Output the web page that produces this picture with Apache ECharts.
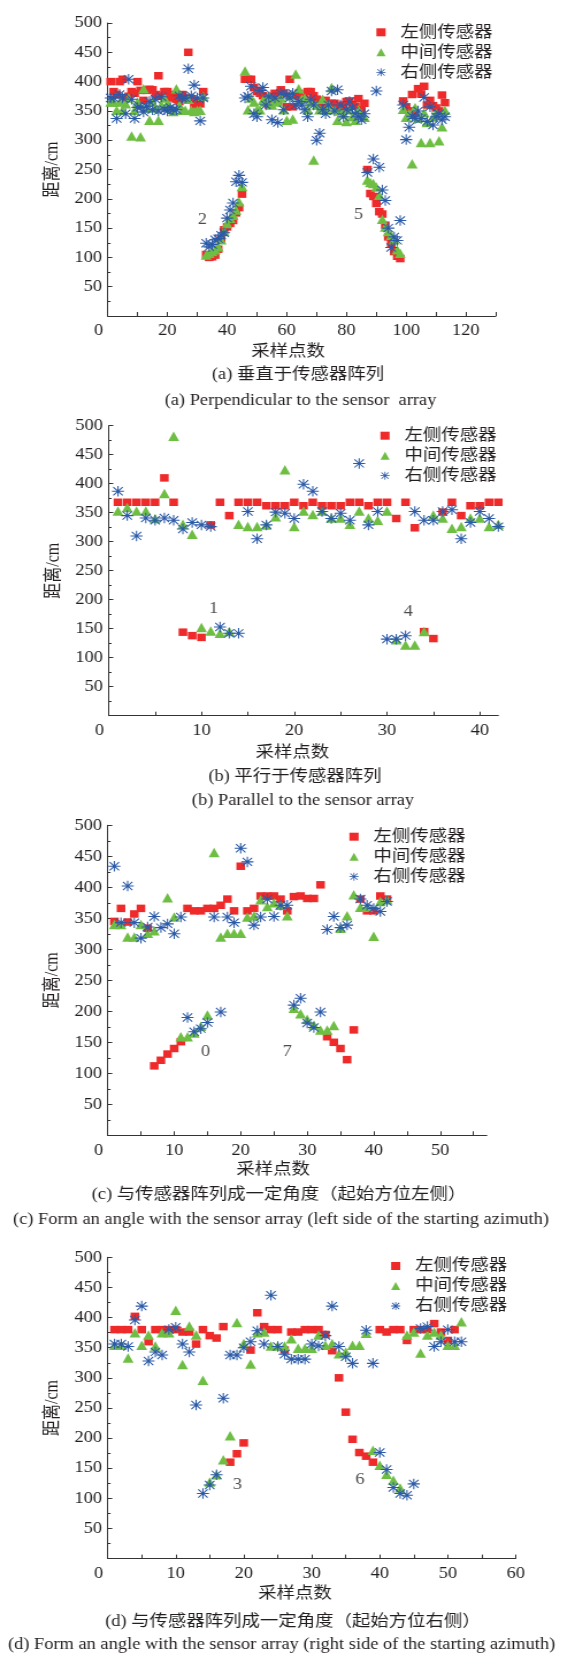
<!DOCTYPE html>
<html>
<head>
<meta charset="utf-8">
<script src="https://cdn.jsdelivr.net/npm/echarts@6/dist/echarts.min.js"></script>
<style>
html,body{margin:0;padding:0;background:#fff;overflow:hidden;}
#wrap{width:566px;height:1656px;overflow:hidden;}
#c{width:492.17px;height:1656px;transform:scaleX(1.15);transform-origin:0 0;}
</style>
</head>
<body>
<div id="wrap"><div id="c"></div></div>
<script>
// ---------------- DATA ----------------
const seriesNames = ['左侧传感器', '中间传感器', '右侧传感器'];

// (a) perpendicular
const aLeft = [[1,400],[2,383],[3,378],[4,400],[5,404],[6,372],[7,375],[8,383],[9,380],[10,400],[11,385],[12,368],[13,385],[14,387],[15,386],[16,378],[17,410],[18,375],[19,383],[20,383],[21,372],[22,378],[23,370],[24,366],[25,378],[26,372],[27,450],[28,370],[29,360],[30,366],[31,362],[32,383],
 [33,105],[34,100],[35,101],[36,104],[37,114],[38,130],[39,147],[40,152],[41,158],[42,163],[43,176],[44,185],[45,208],
 [46,404],[47,404],[48,404],[49,390],[50,383],[51,380],[52,376],[53,372],[54,360],[55,375],[56,380],[57,366],[58,386],[59,380],[60,357],[61,404],[62,357],[63,375],[64,380],[65,372],[66,370],[67,383],[68,383],[69,376],[70,370],[71,365],[72,360],[73,368],[74,360],[75,363],[76,363],[77,358],[78,352],[79,360],[80,366],[81,367],[82,360],[83,358],[84,371],[85,352],[86,363],
 [87,250],[88,209],[89,204],[90,192],[91,178],[92,174],[93,155],[94,135],[95,124],[96,110],[97,102],[98,98],
 [99,367],[100,357],[101,350],[102,378],[103,345],[104,388],[105,379],[106,392],[107,360],[108,368],[109,359],[110,355],[111,350],[112,377],[113,364]];
const aMid = [[1,365],[2,365],[3,351],[4,365],[5,351],[6,362],[7,372],[8,307],[9,351],[10,365],[11,306],[12,388],[13,355],[14,334],[15,365],[16,355],[17,334],[18,360],[19,372],[20,362],[21,355],[22,349],[23,388],[24,360],[25,351],[26,351],[27,370],[28,351],[29,349],[30,351],[31,351],[32,375],
 [33,104],[34,107],[35,110],[36,113],[37,118],[38,130],[39,144],[40,158],[41,167],[42,172],[43,181],[44,195],[45,221],
 [46,418],[47,352],[48,372],[49,365],[50,352],[51,352],[52,368],[53,365],[54,375],[55,360],[56,368],[57,365],[58,372],[59,352],[60,334],[61,376],[62,336],[63,413],[64,388],[65,370],[66,372],[67,352],[68,365],[69,266],[70,360],[71,352],[72,370],[73,352],[74,360],[75,390],[76,352],[77,334],[78,350],[79,345],[80,332],[81,352],[82,340],[83,334],[84,352],[85,345],[86,339],
 [87,232],[88,228],[89,226],[90,220],[91,206],[92,165],[93,152],[94,144],[95,138],[96,130],[97,113],[98,107],
 [99,353],[100,339],[101,345],[102,260],[103,356],[104,338],[105,296],[106,347],[107,330],[108,296],[109,340],[110,345],[111,299],[112,323],[113,351]];
const aRight = [[1,372],[2,372],[3,337],[4,378],[5,372],[6,345],[7,404],[8,370],[9,337],[10,356],[11,356],[12,348],[13,358],[14,366],[15,352],[16,370],[17,350],[18,374],[19,352],[20,350],[21,356],[22,352],[23,352],[24,376],[25,372],[26,372],[27,422],[28,376],[29,394],[30,372],[31,333],[32,372],
 [33,124],[34,118],[35,122],[36,130],[37,132],[38,138],[39,142],[40,167],[41,181],[42,193],[43,229],[44,240],[45,228],
 [46,372],[47,375],[48,392],[49,345],[50,340],[51,385],[52,390],[53,360],[54,374],[55,335],[56,372],[57,330],[58,380],[59,352],[60,378],[61,372],[62,380],[63,360],[64,366],[65,360],[66,352],[67,340],[68,370],[69,360],[70,300],[71,312],[72,352],[73,345],[74,360],[75,384],[76,350],[77,386],[78,360],[79,340],[80,352],[81,366],[82,355],[83,345],[84,340],[85,335],[86,345],
 [87,245],[89,268],[90,384],[91,254],[92,215],[93,197],[94,150],[95,117],[96,135],[97,129],[98,163],
 [99,360],[100,301],[101,322],[102,341],[103,337],[104,350],[105,337],[106,373],[107,332],[108,357],[109,326],[110,340],[111,345],[112,335],[113,340]];
const aNotes = [[31.7,165,'2'],[84,172,'5']];

// (b) parallel
const bLeft = [[1,368],[2,368],[3,368],[4,368],[5,368],[6,410],[7,368],[8,144],[9,138],[10,135],[11,329],[12,368],[13,345],[14,368],[15,368],[16,368],[17,362],[18,362],[19,362],[20,368],[21,362],[22,368],[23,362],[24,362],[25,362],[26,368],[27,368],[28,362],[29,368],[30,368],[31,340],[32,368],[33,324],[34,145],[35,133],[36,351],[37,368],[38,345],[39,362],[40,362],[41,368],[42,368]];
const bMid = [[1,353],[2,359],[3,353],[4,353],[5,340],[6,383],[7,482],[8,330],[9,313],[10,152],[11,146],[12,142],[13,145],[14,330],[15,326],[16,326],[17,329],[18,343],[19,424],[20,326],[21,353],[22,347],[23,353],[24,341],[25,341],[26,330],[27,353],[28,341],[29,337],[30,353],[31,131],[32,122],[33,122],[34,145],[35,346],[36,341],[37,323],[38,326],[39,341],[40,341],[41,326],[42,330]];
const bRight = [[1,387],[2,345],[3,310],[4,341],[5,337],[6,341],[7,337],[8,322],[9,333],[10,329],[11,326],[12,153],[13,142],[14,142],[15,352],[16,305],[17,329],[18,351],[19,349],[20,340],[21,399],[22,387],[23,352],[24,340],[25,349],[26,337],[27,435],[28,329],[29,352],[30,132],[31,132],[32,138],[33,352],[34,337],[35,337],[36,352],[37,355],[38,305],[39,333],[40,352],[41,340],[42,326]];
const bNotes = [[11.3,185,'1'],[32.3,179,'4']];

// (c) angle, start on the left
const cLeft = [[1,345],[2,366],[3,344],[4,357],[5,366],[6,334],[7,112],[8,121],[9,131],[10,140],[11,151],[12,366],[13,362],[14,362],[15,366],[16,366],[17,371],[18,381],[19,362],[20,434],[21,362],[22,366],[23,386],[24,386],[25,386],[26,381],[27,362],[28,385],[29,386],[30,382],[31,382],[32,404],[33,159],[34,150],[35,140],[36,122],[37,170],[38,381],[39,362],[40,362],[41,386],[42,381]];
const cMid = [[1,340],[2,340],[3,320],[4,320],[5,340],[6,326],[7,330],[9,383],[10,352],[11,159],[12,159],[13,165],[14,176],[15,194],[16,456],[17,320],[18,326],[19,326],[20,326],[21,352],[22,354],[23,380],[24,369],[25,375],[26,371],[27,354],[28,205],[29,196],[30,187],[31,178],[32,170],[33,170],[34,177],[35,334],[36,354],[37,388],[38,368],[39,368],[40,321],[41,377],[42,380]];
const cRight = [[1,434],[2,343],[3,402],[4,343],[5,318],[6,336],[7,353],[8,335],[9,341],[10,325],[11,352],[12,190],[13,167],[14,172],[15,182],[16,352],[17,199],[18,352],[19,343],[20,463],[21,441],[22,339],[23,352],[24,381],[25,353],[26,371],[27,371],[28,210],[29,221],[30,181],[31,174],[32,199],[33,332],[34,353],[35,335],[36,339],[38,381],[39,371],[40,366],[41,361],[42,377]];
const cNotes = [[14.7,135,'0'],[27,135,'7']];

// (d) angle, start on the right
const dLeft = [[1,380],[2,380],[3,380],[4,402],[5,380],[6,360],[7,380],[8,380],[9,380],[10,380],[11,376],[12,376],[13,356],[14,380],[15,370],[16,366],[17,385],[18,160],[19,174],[20,192],[21,346],[22,408],[23,385],[24,380],[25,380],[26,346],[27,376],[28,376],[29,380],[30,380],[31,380],[32,372],[33,345],[34,300],[35,243],[36,198],[37,176],[38,170],[39,160],[40,380],[41,376],[42,380],[43,380],[44,362],[45,380],[46,380],[47,380],[48,390],[49,376],[50,362],[51,380]];
const dMid = [[1,354],[2,354],[3,333],[4,375],[5,354],[6,371],[7,353],[8,375],[9,375],[10,412],[11,322],[12,386],[13,371],[14,296],[15,127],[16,139],[17,164],[18,204],[19,392],[20,357],[21,323],[22,375],[23,376],[24,353],[25,353],[26,353],[27,365],[28,349],[29,349],[30,349],[31,371],[32,354],[33,357],[34,340],[35,343],[36,354],[37,354],[38,374],[39,180],[40,155],[41,140],[42,130],[43,117],[44,371],[45,376],[46,341],[47,371],[48,376],[49,371],[50,354],[51,354],[52,393]];
const dRight = [[1,356],[2,356],[3,352],[4,396],[5,419],[6,328],[7,343],[8,338],[9,380],[10,384],[11,356],[12,343],[13,255],[14,108],[15,122],[16,139],[17,266],[18,338],[19,338],[20,350],[21,360],[22,378],[23,356],[24,437],[25,352],[26,339],[27,331],[28,331],[29,331],[30,356],[31,353],[32,370],[33,419],[34,352],[35,335],[36,324],[38,379],[39,324],[40,176],[41,148],[42,118],[43,108],[44,105],[45,124],[46,382],[47,385],[48,352],[49,360],[50,380],[51,360],[52,360]];
const dNotes = [[19.1,122,'3'],[37.1,131,'6']];

// tick labels
const aXLabels = [0,20,40,60,80,100,120];
const bXLabels = [0,10,20,30,40];
const cXLabels = [0,10,20,30,40,50];
const dXLabels = [0,10,20,30,40,50,60];

const captions = [
  ['(a) 垂直于传感器阵列', '(a) Perpendicular to the sensor  array'],
  ['(b) 平行于传感器阵列', '(b) Parallel to the sensor array'],
  ['(c) 与传感器阵列成一定角度（起始方位左侧）', '(c) Form an angle with the sensor array (left side of the starting azimuth)'],
  ['(d) 与传感器阵列成一定角度（起始方位右侧）', '(d) Form an angle with the sensor array (right side of the starting azimuth)']
];

// ---------------- LAYOUT ----------------
const S = 1.15; // horizontal stretch of the original figure
const FONT = "'Liberation Serif','Times New Roman','Noto Sans CJK SC',serif";
const TXT = '#231f20';
const RED = '#ee2a2a', GREEN = '#6fbe44', BLUE = '#2b5aa8';
const STAR = 'path://M0,9 L20,9 L20,11 L0,11 Z M9,0 L11,0 L11,20 L9,20 Z M2.9,1.5 L18.5,17.1 L17.1,18.5 L1.5,2.9 Z M17.1,1.5 L18.5,2.9 L2.9,18.5 L1.5,17.1 Z';

function range(a, b, s){ const r=[]; for(let v=a; v<=b; v+=s) r.push(v); return r; }

const panels = [
  {x0:107.7, x1:495.7, y0:23, y1:316, xMax:130, labels:aXLabels, ticks:range(0,130,10), data:[aLeft,aMid,aRight], notes:aNotes,
   leg:[381,32.3], nameShift:-13.7, nameY:351.6, cap:[[298,375],[300.5,401]]},
  {x0:108.7, x1:498.3, y0:425.7, y1:715.7, xMax:42, labels:bXLabels, ticks:range(0,40,5), data:[bLeft,bMid,bRight], notes:bNotes,
   leg:[385,435.7], nameShift:-11, nameY:753, cap:[[295,777],[303,801]]},
  {x0:107.7, x1:107.7+6.65*57, y0:825.3, y1:1135.3, xMax:57, labels:cXLabels, ticks:range(0,55,5), data:[cLeft,cMid,cRight], notes:cNotes,
   leg:[354,836.7], nameShift:-24, nameY:1169.5, cap:[[279,1195],[281,1220]]},
  {x0:107.7, x1:515.8, y0:1257.3, y1:1558.6, xMax:60, labels:dXLabels, ticks:range(0,60,5), data:[dLeft,dMid,dRight], notes:dNotes,
   leg:[395.7,1266], nameShift:-16.7, nameY:1594, cap:[[293,1622],[281.6,1645]]}
];

const grid=[], xAxis=[], yAxis=[], series=[], legend=[], graphic=[];
const lab = {fontSize:16, fontFamily:FONT, color:TXT};
panels.forEach((p, i) => {
  grid.push({left:p.x0/S, top:p.y0, width:(p.x1-p.x0)/S, height:p.y1-p.y0, containLabel:false});
  xAxis.push({
    gridIndex:i, type:'value', min:0, max:p.xMax,
    axisLine:{show:true, onZero:false, lineStyle:{color:'#333', width:1}},
    axisTick:{show:true, inside:true, length:4, customValues:p.ticks, lineStyle:{color:'#333'}},
    axisLabel:{show:true, customValues:p.labels, margin:7, ...lab,
      formatter:(v)=> v===0 ? '{z|0}' : String(v),
      rich:{z:{...lab, padding:[0,16,0,0]}}},
    splitLine:{show:false},
    name:'采样点数', nameLocation:'middle', nameGap:p.nameY-p.y1-8,
    nameTextStyle:{...lab, padding:[0, -2*p.nameShift/S, 0, 0]}
  });
  yAxis.push({
    gridIndex:i, type:'value', min:0, max:500, interval:50,
    axisLine:{show:true, onZero:false, lineStyle:{color:'#333', width:1}},
    axisTick:{show:true, inside:true, length:4, lineStyle:{color:'#333'}},
    minorTick:{show:true, splitNumber:2, length:2.5, lineStyle:{color:'#333'}},
    axisLabel:{margin:5, ...lab, formatter:(v)=> v===0 ? '' : String(v)},
    splitLine:{show:false}, minorSplitLine:{show:false},
    name:'距离/cm', nameLocation:'middle', nameGap:33, nameTextStyle:{...lab}
  });
  const symbols = [['rect',7.5,RED],['triangle',9.5,GREEN],[STAR,10.5,BLUE]];
  p.data.forEach((d, k) => {
    series.push({type:'scatter', name:seriesNames[k], xAxisIndex:i, yAxisIndex:i, data:d,
      symbol:symbols[k][0], symbolSize:symbols[k][1], itemStyle:{color:symbols[k][2], opacity:1}, z:2+k});
  });
  series.push({type:'scatter', name:'note'+i, xAxisIndex:i, yAxisIndex:i, silent:true,
    data:p.notes.map(n=>({name:n[2], value:[n[0],n[1]]})),
    symbolSize:1, itemStyle:{color:'rgba(0,0,0,0)'},
    label:{show:true, position:'inside', formatter:'{b}', ...lab}, z:10});
  legend.push({data:seriesNames, orient:'vertical', left:p.leg[0]/S-4, top:p.leg[1]-9,
    itemWidth:8, itemHeight:8, itemGap:2, padding:0, selectedMode:false,
    textStyle:{...lab, lineHeight:18, padding:[0,0,0,8]}});
  captions[i].forEach((t, j) => {
    graphic.push({type:'text', x:p.cap[j][0]/S, y:p.cap[j][1], silent:true,
      style:{text:t, fontSize:16, fontFamily:FONT, fill:TXT, align:'center', verticalAlign:'middle', textAlign:'center', textVerticalAlign:'middle'}});
  });
});

const chart = echarts.init(document.getElementById('c'), null, {renderer:'canvas', width:492.17, height:1656});
chart.setOption({
  animation:false, backgroundColor:'#fff',
  grid, xAxis, yAxis, series, legend, graphic
});
</script>
</body>
</html>
